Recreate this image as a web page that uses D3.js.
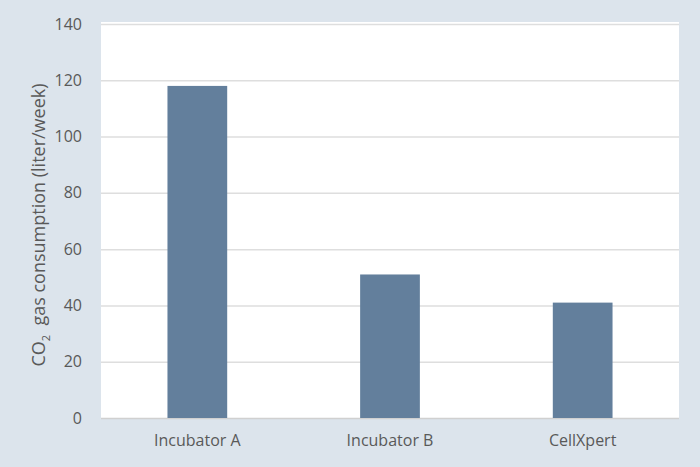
<!DOCTYPE html>
<html>
  <head>
    <meta charset="utf-8"/>
    <script type="text/javascript" src="https://cdnjs.cloudflare.com/ajax/libs/d3/7.8.5/d3.min.js"></script>
    <style type="text/css">

html, body {
  margin: 0;
  padding: 0;
  background: #dce4ec;
}

svg {
  display: block;
  font-family: "Open Sans", sans-serif;
}

.tick text {
  fill: #595959;
  font-size: 16px;
}

    </style>
  </head>
  <body>
    <div id="chart"></div>
    <script type="text/javascript">

// Values
var categories = ["Incubator A", "Incubator B", "CellXpert"];
var consumption = [118, 51, 41];
var yTicks = [0, 20, 40, 60, 80, 100, 120, 140];

var width = 700,
    height = 467,
    margin = {top: 24, right: 21, bottom: 49, left: 101};

var svg = d3.select("#chart").append("svg")
    .attr("width", width)
    .attr("height", height);

var x = d3.scaleBand()
    .domain(categories)
    .range([margin.left, width - margin.right])
    .paddingInner(0.69)
    .paddingOuter(0.345);

var y = d3.scaleLinear()
    .domain([0, 140])
    .range([height - margin.bottom, margin.top]);

// White plot area
svg.append("rect")
    .attr("x", margin.left)
    .attr("y", margin.top - 2)
    .attr("width", width - margin.left - margin.right)
    .attr("height", height - margin.bottom - margin.top + 2)
    .attr("fill", "#fff");

// Gridlines
svg.append("g")
  .selectAll("line")
    .data(yTicks)
  .enter().append("line")
    .attr("x1", margin.left)
    .attr("x2", width - margin.right)
    .attr("y1", function(d) { return y(d) + 0.5; })
    .attr("y2", function(d) { return y(d) + 0.5; })
    .attr("stroke", function(d) { return d === 0 ? "#d0d0d0" : "#dedede"; })
    .attr("stroke-width", 1.5);

// Bars
svg.append("g")
  .selectAll("rect")
    .data(consumption)
  .enter().append("rect")
    .attr("x", function(d, i) { return x(categories[i]); })
    .attr("y", function(d) { return y(d); })
    .attr("width", x.bandwidth())
    .attr("height", function(d) { return y(0) - y(d); })
    .attr("fill", "#637f9c");

// Axes, no lines or ticks, only labels
var yAxis = svg.append("g")
    .attr("transform", "translate(" + (margin.left - 11) + ",0)")
    .call(d3.axisLeft(y).tickValues(yTicks).tickSize(0).tickPadding(8));
yAxis.select(".domain").remove();

var xAxis = svg.append("g")
    .attr("transform", "translate(0," + (height - margin.bottom) + ")")
    .call(d3.axisBottom(x).tickSize(0).tickPadding(17));
xAxis.select(".domain").remove();

// let the CSS font win over the axis defaults
yAxis.attr("font-size", null).attr("font-family", null);
xAxis.attr("font-size", null).attr("font-family", null);

// Y axis title with subscript 2
var title = svg.append("text")
    .attr("transform", "translate(45,225) rotate(-90)")
    .attr("text-anchor", "middle")
    .attr("fill", "#595959")
    .attr("font-size", 18);
title.append("tspan").text("CO");
title.append("tspan")
    .attr("font-size", 11)
    .attr("dy", 5)
    .text("2");
title.append("tspan")
    .attr("dy", -5)
    .text("  gas consumption (liter/week)")
    .attr("xml:space", "preserve");

    </script>
  </body>
</html>
